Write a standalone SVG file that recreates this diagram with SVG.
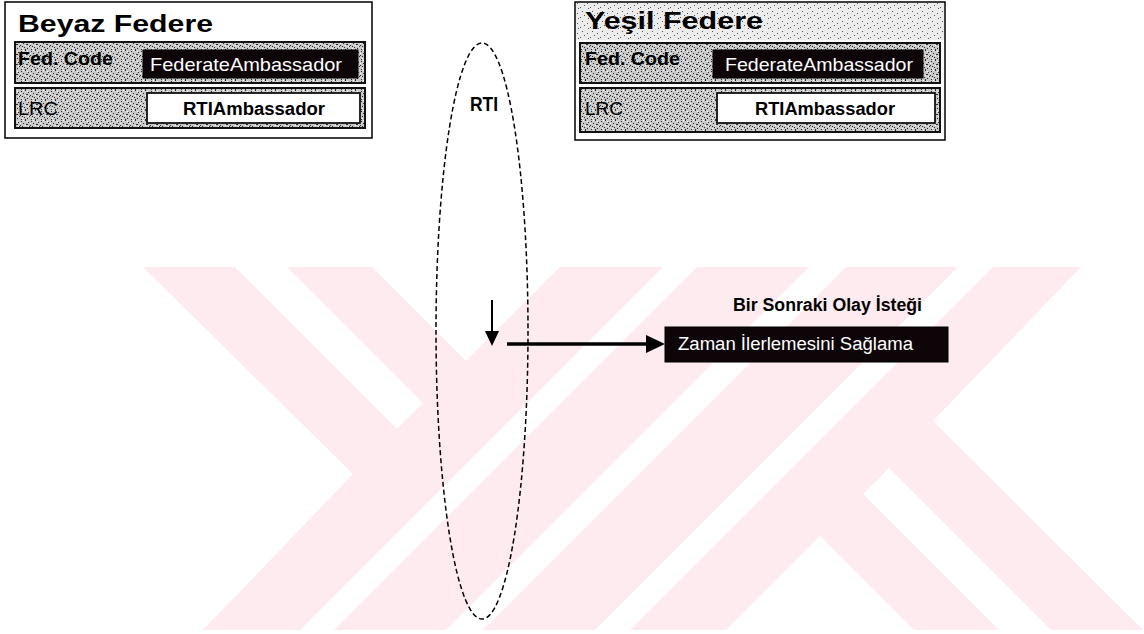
<svg xmlns="http://www.w3.org/2000/svg" width="1144" height="634" viewBox="0 0 1144 634">
  <style>
    text { font-family: "Liberation Sans", Arial, sans-serif; }
    .title { font-size: 24px; font-weight: bold; fill: #000; }
    .lbl { font-size: 19px; font-weight: bold; fill: #000; }
    .lrc { font-size: 19px; fill: #000; }
    .fa { font-size: 19px; fill: #fff; }
    .rtia { font-size: 18px; font-weight: bold; fill: #000; }
    .frame { fill: #fff; stroke: #000; stroke-width: 1.5; }
    .band { fill: url(#stipple); stroke: #111; stroke-width: 2; }
    .blackbox { fill: #0d0508; stroke: #000; stroke-width: 1; }
    .whitebox { fill: #fff; stroke: #111; stroke-width: 1.8; }
    .wm { fill: #fdebef; }
    .wm-cut { fill: #fff; }
    .conn { stroke: #000; fill: none; }
  </style>
  <defs>
    <pattern id="stipple" width="10" height="10" patternUnits="userSpaceOnUse">
      <rect width="10" height="10" fill="#c9c9c9"/>
      <path fill="#2a2a2a" d="M1 1h1v1h-1z M5 0h1v1h-1z M8 2h1v1h-1z M3 3h1v1h-1z M6 4h2v1h-2z M0 5h1v1h-1z M2 6h1v1h-1z M9 6h1v1h-1z M4 7h1v1h-1z M7 8h1v1h-1z M1 9h1v1h-1z M5 9h1v1h-1z"/>
      <path fill="#fff" d="M3 0h1v1h-1z M7 1h1v1h-1z M0 3h1v1h-1z M5 5h1v1h-1z M8 6h1v1h-1z M2 8h1v1h-1z"/>
    </pattern>
    <pattern id="stipple-light" width="10" height="10" patternUnits="userSpaceOnUse">
      <rect width="10" height="10" fill="#ececec"/>
      <path fill="#555" d="M2 1h1v1h-1z M7 3h1v1h-1z M4 5h1v1h-1z M0 7h1v1h-1z M8 8h1v1h-1z"/>
    </pattern>
    <marker id="head" viewBox="0 0 10 10" refX="9" refY="5" markerWidth="5" markerHeight="5" orient="auto" markerUnits="strokeWidth">
      <path d="M0 0 L10 5 L0 10 Z" fill="#000"/>
    </marker>
  </defs>

  <rect width="1144" height="634" fill="#fff"/>

  <!-- pale emblem behind the diagram -->
  <g id="emblem">
    <path class="wm" d="M143 267 L1081 267 L933 421 L1143 630 L203 630 L353 474 Z"/>
    <path class="wm-cut" d="M235 267 L287 267 L423 403 L397 429 Z"/>
    <path class="wm-cut" d="M1051 630 L999 630 L863 494 L889 468 Z"/>
    <path class="wm-cut" d="M372 267 L560 267 L466 361 Z"/>
    <path class="wm-cut" d="M914 630 L726 630 L820 536 Z"/>
    <path class="wm-cut" d="M663 267 L697 267 L334 630 L300 630 Z"/>
    <path class="wm-cut" d="M809 267 L846 267 L483 630 L446 630 Z"/>
    <path class="wm-cut" d="M958 267 L993 267 L630 630 L595 630 Z"/>
  </g>

  <!-- federate: Beyaz -->
  <g id="beyaz-federe">
    <rect class="frame" x="5" y="2" width="367" height="136"/>
    <text class="title" x="18" y="32" textLength="195" lengthAdjust="spacingAndGlyphs">Beyaz Federe</text>
    <rect class="band" x="15" y="42" width="350" height="41"/>
    <text class="lbl" x="18" y="65" textLength="95" lengthAdjust="spacingAndGlyphs">Fed. Code</text>
    <rect class="blackbox" x="143" y="50" width="215" height="28"/>
    <text class="fa" x="150" y="71" textLength="192" lengthAdjust="spacingAndGlyphs">FederateAmbassador</text>
    <rect class="band" x="15" y="88" width="350" height="40"/>
    <text class="lrc" x="18" y="115" textLength="40" lengthAdjust="spacingAndGlyphs">LRC</text>
    <rect class="whitebox" x="147" y="93" width="213" height="30"/>
    <text class="rtia" x="183" y="115" textLength="142" lengthAdjust="spacingAndGlyphs">RTIAmbassador</text>
  </g>

  <!-- federate: Yeşil -->
  <g id="yesil-federe">
    <rect class="frame" x="575" y="2" width="370" height="138"/>
    <rect x="576" y="3" width="368" height="37" fill="url(#stipple-light)"/>
    <text class="title" x="585" y="29" textLength="178" lengthAdjust="spacingAndGlyphs">Yeşil Federe</text>
    <rect class="band" x="580" y="43" width="360" height="40"/>
    <text class="lbl" x="585" y="65" textLength="95" lengthAdjust="spacingAndGlyphs">Fed. Code</text>
    <rect class="blackbox" x="713" y="50" width="210" height="28"/>
    <text class="fa" x="725" y="71" textLength="188" lengthAdjust="spacingAndGlyphs">FederateAmbassador</text>
    <rect class="band" x="580" y="88" width="360" height="44"/>
    <text class="lrc" x="585" y="115" textLength="38" lengthAdjust="spacingAndGlyphs">LRC</text>
    <rect class="whitebox" x="717" y="93" width="218" height="30"/>
    <text class="rtia" x="755" y="115" textLength="140" lengthAdjust="spacingAndGlyphs">RTIAmbassador</text>
  </g>

  <!-- RTI bus -->
  <g id="rti">
    <ellipse cx="482" cy="331" rx="46" ry="288" fill="none" stroke="#000" stroke-width="1.5" stroke-dasharray="5 3"/>
    <text x="470" y="111" font-size="21" font-weight="bold" textLength="28" lengthAdjust="spacingAndGlyphs">RTI</text>
  </g>

  <!-- service call -->
  <g id="bir-sonraki-olay">
    <text x="733" y="311" font-size="18" font-weight="bold" textLength="189" lengthAdjust="spacingAndGlyphs">Bir Sonraki Olay İsteği</text>
  </g>

  <g id="zaman-ilerlemesi">
    <rect class="blackbox" x="665" y="327" width="283" height="35"/>
    <text x="678" y="350" font-size="18" fill="#fff" textLength="235" lengthAdjust="spacingAndGlyphs">Zaman İlerlemesini Sağlama</text>
  </g>

  <!-- connectors -->
  <g id="connectors">
    <line class="conn" x1="492" y1="300" x2="492" y2="333" stroke-width="2"/>
    <path d="M485 331 L499 331 L492 346 Z" fill="#000"/>
    <line class="conn" x1="507" y1="344" x2="648" y2="344" stroke-width="3.5"/>
    <path d="M646 335 L665 344 L646 353 Z" fill="#000"/>
  </g>
</svg>
